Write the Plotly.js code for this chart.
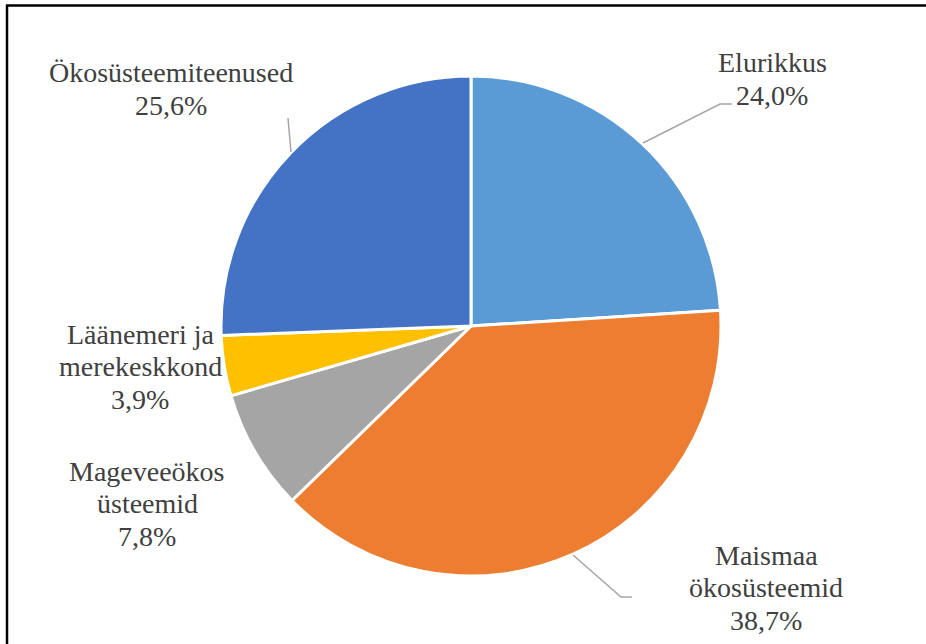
<!DOCTYPE html>
<html>
<head>
<meta charset="utf-8">
<script src="https://cdn.plot.ly/plotly-3.0.1.min.js"></script>
<style>
html,body{margin:0;padding:0;background:#fff;}
#chart{width:926px;height:644px;}
</style>
</head>
<body>
<div id="chart"></div>
<script>
// Data
const categories = ["Elurikkus", "Maismaa ökosüsteemid", "Mageveeökosüsteemid", "Läänemeri ja merekeskkond", "Ökosüsteemiteenused"];
const shares = [24.0, 38.7, 7.8, 3.9, 25.6];
const displayLines = [["Elurikkus"], ["Maismaa", "ökosüsteemid"], ["Mageveeökos", "üsteemid"], ["Läänemeri ja", "merekeskkond"], ["Ökosüsteemiteenused"]];
const colors = ["#5B9BD5", "#ED7D31", "#A5A5A5", "#FFC000", "#4472C4"];

// Layout helpers (pixel positions of label blocks: centre x, first baseline y)
const W = 926, H = 644;
const labelAnchor = [[772, 72], [766, 564], [147, 480], [140, 343], [171, 82]];
const lineStep = 32.5;
const fs = 28;
const px = x => x / W;
const py = y => 1 - y / H;

const annotations = [];
categories.forEach((c, i) => {
  const lines = displayLines[i].concat([shares[i].toFixed(1).replace('.', ',') + '%']);
  lines.forEach((t, j) => {
    annotations.push({
      text: t, showarrow: false, xref: 'paper', yref: 'paper',
      x: px(labelAnchor[i][0]), y: py(labelAnchor[i][1] + j * lineStep - 9),
      xanchor: 'center', yanchor: 'middle',
      font: {family: 'Liberation Serif', size: fs}
    });
  });
});

const shapes = [
  {type: 'line', xref: 'paper', yref: 'paper', x0: px(7), x1: px(7), y0: py(5), y1: py(H + 5), line: {color: '#000', width: 2.5}},
  {type: 'line', xref: 'paper', yref: 'paper', x0: px(6), x1: px(W + 5), y0: py(5.5), y1: py(5.5), line: {color: '#000', width: 2.5}}
];
function pathShape(pts) {
  return {
    type: 'path', xref: 'paper', yref: 'paper',
    path: 'M ' + pts.map(p => px(p[0]).toFixed(5) + ' ' + py(p[1]).toFixed(5)).join(' L '),
    line: {color: '#A6A6A6', width: 1.5}
  };
}
shapes.push(pathShape([[643, 143], [720, 104], [732, 104]]));
shapes.push(pathShape([[573, 555], [621, 597], [632, 597]]));
shapes.push(pathShape([[288, 118], [291, 152]]));

const trace = {
  type: 'pie',
  labels: categories,
  values: shares,
  sort: false,
  direction: 'clockwise',
  rotation: 0,
  textinfo: 'none',
  hoverinfo: 'label+percent',
  marker: {colors: colors, line: {color: '#ffffff', width: 3}},
  domain: {x: [px(221), px(721)], y: [py(576), py(76)]},
  showlegend: false
};

Plotly.newPlot('chart', [trace], {
  width: W, height: H,
  margin: {l: 0, r: 0, t: 0, b: 0},
  paper_bgcolor: '#fff',
  font: {family: 'Liberation Serif', color: '#404040', size: fs},
  showlegend: false,
  annotations: annotations,
  shapes: shapes
}, {displayModeBar: false});
</script>
</body>
</html>
